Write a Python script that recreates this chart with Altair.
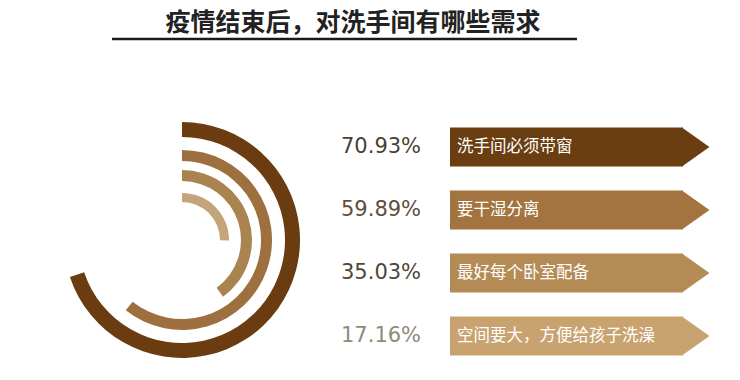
import altair as alt
import pandas as pd

title_text = "疫情结束后，对洗手间有哪些需求"
items = ["洗手间必须带窗", "要干湿分离", "最好每个卧室配备", "空间要大，方便给孩子洗澡"]
values = [70.93, 59.89, 35.03, 17.16]

arc_colors = ["#6B3C10", "#9E7040", "#A98350", "#C3A47B"]
bar_colors = ["#6B3E12", "#A3743F", "#B48B55", "#C9A36F"]
pct_colors = ["#4B3F33", "#5E4F3E", "#4E4638", "#8F8B7B"]
ring_radii = [(118, 103), (90, 79), (70, 59), (47, 38)]

df = pd.DataFrame({"item": items, "value": values})

CX, CY = 174, 232
theta_scale = alt.Scale(domain=[-13, 107])

arc_layers = []
for i, it in enumerate(items):
    ro, ri = ring_radii[i]
    arc_layers.append(
        alt.Chart(df).transform_filter(alt.datum.item == it)
        .mark_arc(radius=ro, radius2=ri, color=arc_colors[i])
        .encode(
            theta=alt.Theta("value:Q", scale=theta_scale, stack=None),
            theta2=alt.Theta2(datum=-13),
            x=alt.value(CX), y=alt.value(CY),
        )
    )

yscale = alt.Scale(type="point", domain=items, range=[139, 328], padding=0)
Y = alt.Y("item:N", scale=yscale, axis=None)

bars = alt.Chart(df).mark_bar(height=39).encode(
    y=Y, x=alt.value(442), x2=alt.value(675),
    color=alt.Color("item:N", scale=alt.Scale(domain=items, range=bar_colors), legend=None),
)
tips = alt.Chart(df).mark_point(
    shape="M-0.72,-1L0.69,0L-0.72,1Z", size=1521, filled=True, opacity=1, strokeWidth=0
).encode(
    y=Y, x=alt.value(688),
    color=alt.Color("item:N", scale=alt.Scale(domain=items, range=bar_colors), legend=None),
)
bar_text = alt.Chart(df).mark_text(
    align="left", baseline="middle", font="Noto Sans CJK SC", fontSize=16.5, color="white"
).encode(y=Y, x=alt.value(449), text="item:N")

pct_text = alt.Chart(df).transform_calculate(
    label="format(datum.value, '.2f') + '%'"
).mark_text(align="left", baseline="middle", font="DejaVu Sans", fontSize=21).encode(
    y=Y, x=alt.value(333), text="label:N",
    color=alt.Color("item:N", scale=alt.Scale(domain=items, range=pct_colors), legend=None),
)

tdf = pd.DataFrame({"t": [title_text]})
title = alt.Chart(tdf).mark_text(
    align="center", baseline="middle", font="Noto Sans CJK SC", fontSize=25,
    fontWeight="bold", color="#222222"
).encode(x=alt.value(345), y=alt.value(15), text="t:N")
underline = alt.Chart(tdf).mark_rule(color="#1a1a1a", strokeWidth=2.5).encode(
    x=alt.value(104), x2=alt.value(569), y=alt.value(31)
)

chart = alt.layer(*arc_layers, bars, tips, bar_text, pct_text, title, underline).resolve_scale(
    color="independent"
).properties(
    width=724, height=364, padding=0,
    autosize=alt.AutoSizeParams(type="fit", contains="padding"),
).configure_view(stroke=None)

chart.save("out.html", embed_options={"renderer": "svg", "actions": False})
